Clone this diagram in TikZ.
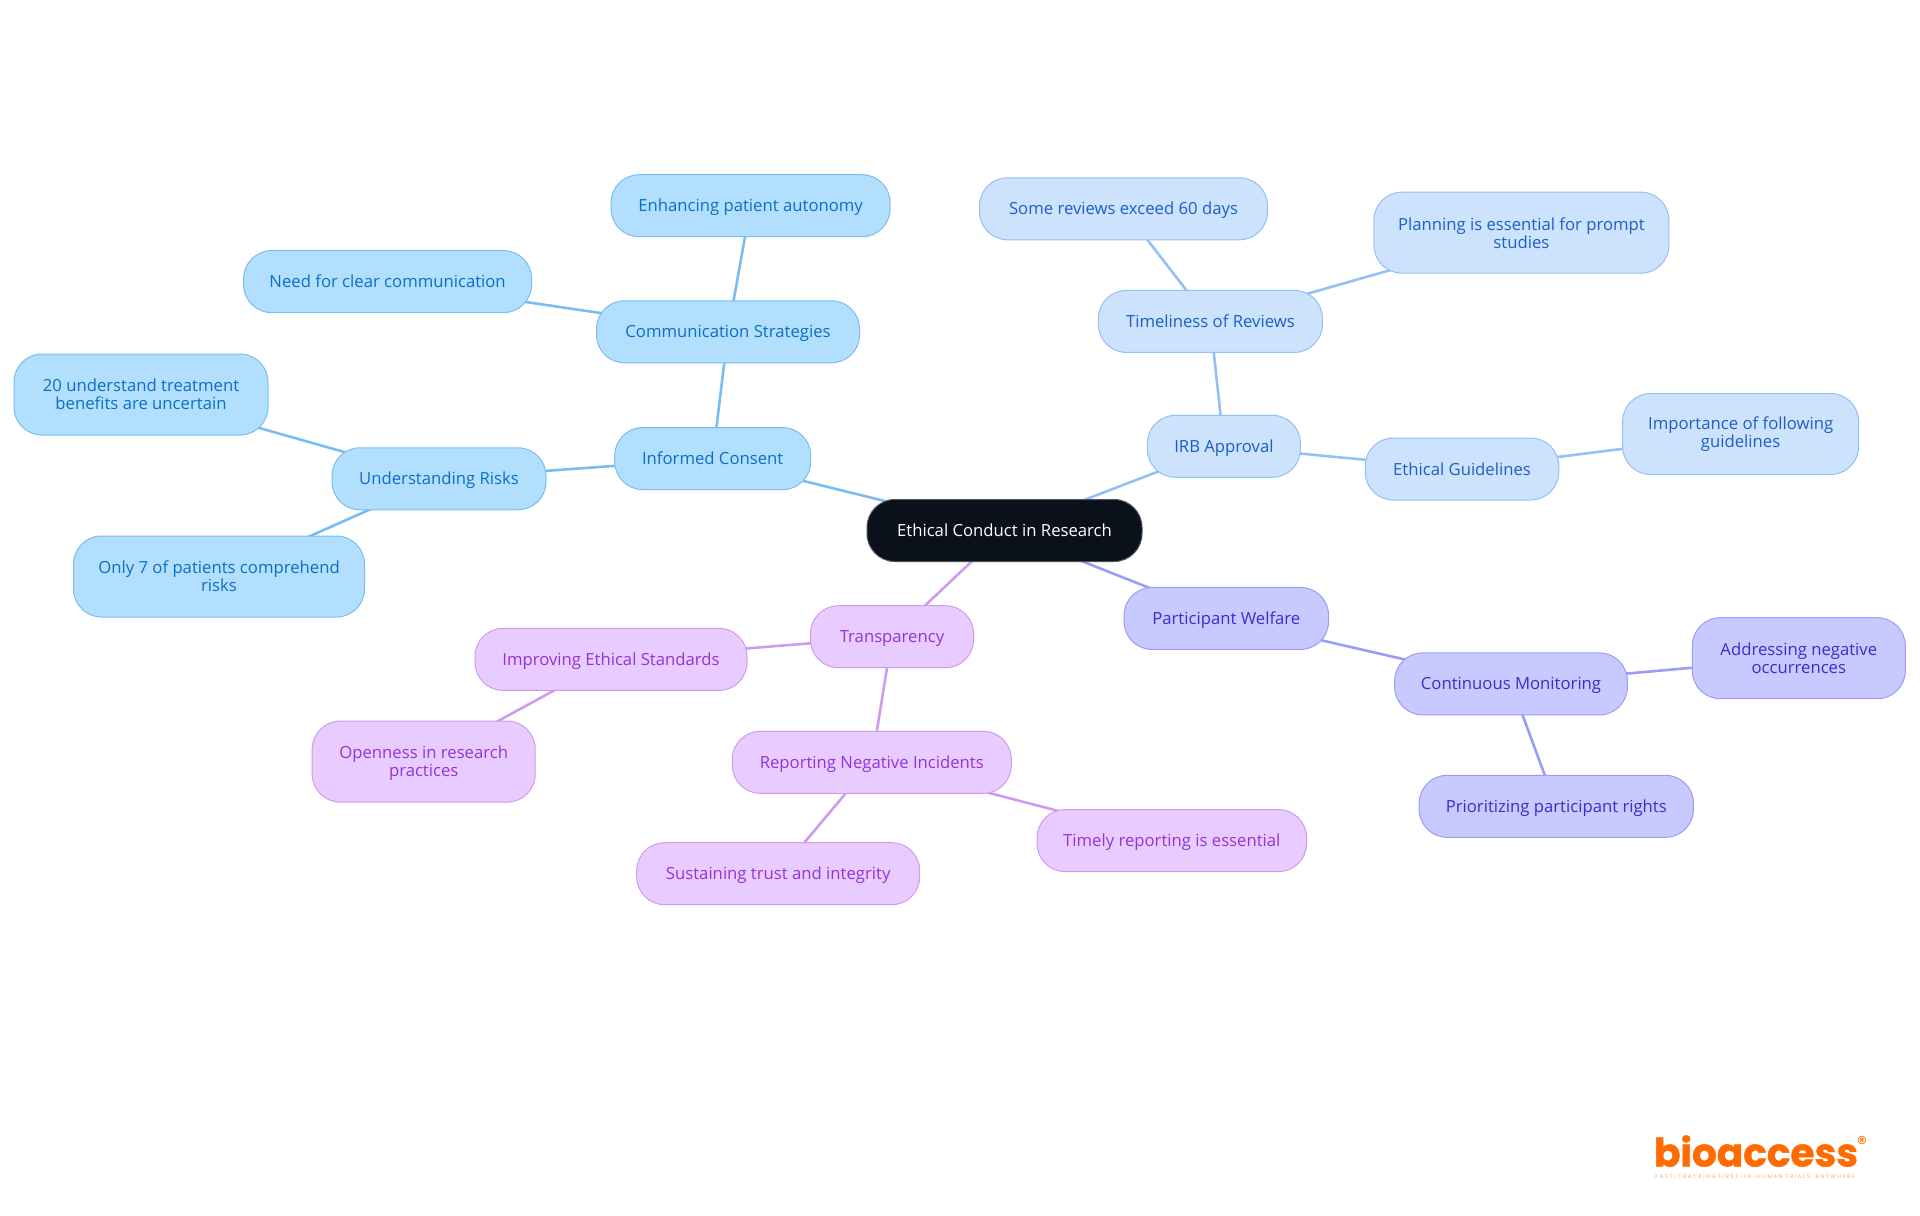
\documentclass[tikz,border=0pt]{standalone}
\usepackage{fontspec}
\setmainfont{Open Sans}
\newfontfamily\logofont{Poppins}[BoldFont=Poppins Bold,BoldFeatures={FakeBold=1.2}]
\newfontfamily\tagfont{Poppins}[LetterSpace=30]
\usetikzlibrary{backgrounds}
\definecolor{rootfill}{HTML}{0B111B}
\definecolor{skyfill}{HTML}{B3DFFF}
\definecolor{skyline}{HTML}{7ABDF0}
\definecolor{skytext}{HTML}{0B6FC5}
\definecolor{bluefill}{HTML}{CCE2FD}
\definecolor{blueline}{HTML}{93C0F5}
\definecolor{bluetext}{HTML}{1D5FC5}
\definecolor{indfill}{HTML}{C7C9FF}
\definecolor{indline}{HTML}{9A9CF5}
\definecolor{indtext}{HTML}{3730C8}
\definecolor{purfill}{HTML}{E9CCFF}
\definecolor{purline}{HTML}{CE9BEF}
\definecolor{purtext}{HTML}{9333D8}
\definecolor{logoorange}{HTML}{FF6B00}
\definecolor{logotag}{HTML}{F8A66C}
\tikzset{
  topic/.style={rectangle,rounded corners=14pt,minimum height=31pt,inner sep=0pt,
    align=center,line width=0.5pt,text height=7pt,text depth=1pt,
    font=\fontsize{8.35}{9}\selectfont},
  tall/.style={minimum height=40.5pt,text height=,text depth=},
  rootnode/.style={topic,fill=rootfill,draw=gray!60!rootfill,text=white},
  sky/.style={topic,fill=skyfill,draw=skyline,text=skytext},
  bluish/.style={topic,fill=bluefill,draw=blueline,text=bluetext},
  indigo/.style={topic,fill=indfill,draw=indline,text=indtext},
  purple/.style={topic,fill=purfill,draw=purline,text=purtext},
  link/.style={line width=1.3pt}
}
\begin{document}
\begin{tikzpicture}[x=0.5pt,y=-0.5pt]
    \useasboundingbox (0,0) rectangle (1920,1215);
    %% Draw the root
    \node[rootnode,minimum width=137.5pt] (root) at (1004.5,530.5) {Ethical Conduct in Research};
    %% Draw the informed consent branch
    \node[sky,minimum width=98pt] (consent) at (712.7,458.6) {Informed Consent};
    \node[sky,minimum width=131.5pt] (comm) at (728,331.8) {Communication Strategies};
    \node[sky,minimum width=139.5pt] (autonomy) at (750.6,205.7) {Enhancing patient autonomy};
    \node[sky,minimum width=144pt] (clear) at (387.6,281.6) {Need for clear communication};
    \node[sky,minimum width=107pt] (risks) at (439,478.8) {Understanding Risks};
    \node[sky,tall,minimum width=127pt] (uncertain) at (141,394.5) {20 understand treatment\\benefits are uncertain};
    \node[sky,tall,minimum width=145.5pt] (only) at (219,576.5) {Only 7 of patients comprehend\\risks};
    %% Draw the IRB branch
    \node[bluish,minimum width=76.5pt] (irb) at (1223.9,446.3) {IRB Approval};
    \node[bluish,minimum width=112pt] (timely) at (1210.4,321.4) {Timeliness of Reviews};
    \node[bluish,minimum width=144pt] (days) at (1123.5,208.8) {Some reviews exceed 60 days};
    \node[bluish,tall,minimum width=147.5pt] (planning) at (1521.4,232.7) {Planning is essential for prompt\\studies};
    \node[bluish,minimum width=96.75pt] (guide) at (1462,469) {Ethical Guidelines};
    \node[bluish,tall,minimum width=118pt] (follow) at (1740.6,434) {Importance of following\\guidelines};
    %% Draw the welfare branch
    \node[indigo,minimum width=102.25pt] (welfare) at (1226.3,618.4) {Participant Welfare};
    \node[indigo,minimum width=116.35pt] (monitor) at (1511,683.9) {Continuous Monitoring};
    \node[indigo,tall,minimum width=106.5pt] (negative) at (1798.8,658.2) {Addressing negative\\occurrences};
    \node[indigo,minimum width=137.15pt] (rights) at (1556.3,806.3) {Prioritizing participant rights};
    %% Draw the transparency branch
    \node[purple,minimum width=81.5pt] (transp) at (892,636.7) {Transparency};
    \node[purple,minimum width=136pt] (standards) at (611,659.4) {Improving Ethical Standards};
    \node[purple,tall,text depth=0.6pt,minimum width=111.5pt] (openness) at (423.7,761.6) {Openness in research\\practices};
    \node[purple,minimum width=139.5pt] (incidents) at (871.8,762.3) {Reporting Negative Incidents};
    \node[purple,minimum width=134.7pt] (prompt) at (1171.8,840.6) {Timely reporting is essential};
    \node[purple,minimum width=141.5pt] (trust) at (778.2,873.7) {Sustaining trust and integrity};
    %% Draw the edges
    \begin{scope}[on background layer,every path/.style={link}]
      \draw[skyline] (root.center) -- (consent.center);
      \draw[skyline] (consent.center) -- (comm.center);
      \draw[skyline] (comm.center) -- (autonomy.center);
      \draw[skyline] (comm.center) -- (clear.center);
      \draw[skyline] (consent.center) -- (risks.center);
      \draw[skyline] (risks.center) -- (uncertain.center);
      \draw[skyline] (risks.center) -- (only.center);
      \draw[blueline] (root.center) -- (irb.center);
      \draw[blueline] (irb.center) -- (timely.center);
      \draw[blueline] (timely.center) -- (days.center);
      \draw[blueline] (timely.center) -- (planning.center);
      \draw[blueline] (irb.center) -- (guide.center);
      \draw[blueline] (guide.center) -- (follow.center);
      \draw[indline] (root.center) -- (welfare.center);
      \draw[indline] (welfare.center) -- (monitor.center);
      \draw[indline] (monitor.center) -- (negative.center);
      \draw[indline] (monitor.center) -- (rights.center);
      \draw[purline] (root.center) -- (transp.center);
      \draw[purline] (transp.center) -- (standards.center);
      \draw[purline] (standards.center) -- (openness.center);
      \draw[purline] (transp.center) -- (incidents.center);
      \draw[purline] (incidents.center) -- (prompt.center);
      \draw[purline] (incidents.center) -- (trust.center);
    \end{scope}
    %% Draw the logo
    \node[inner sep=0pt,text=logoorange,font=\logofont\bfseries\fontsize{19.5}{20}\selectfont] (logo) at (1756,1151) {bioaccess};
    \node[inner sep=0pt,text=logoorange,font=\logofont\fontsize{10}{10}\selectfont] (reg) at (1862,1143) {®};
    \node[inner sep=0pt,text=logotag,font=\tagfont\fontsize{2.65}{3}\selectfont] (tagline) at (1755,1177) {FAST-TRACKING FIRST-IN-HUMAN TRIALS, ANYWHERE};
\end{tikzpicture}
\end{document}
